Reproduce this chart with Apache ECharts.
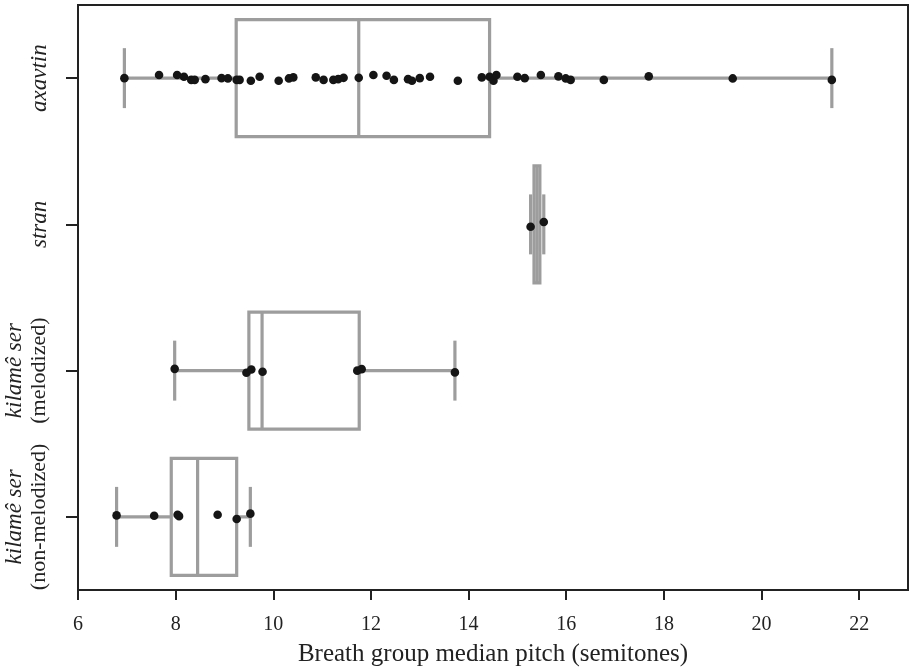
<!DOCTYPE html>
<html>
<head>
<meta charset="utf-8">
<script src="https://cdn.jsdelivr.net/npm/echarts@6/dist/echarts.min.js"></script>
<style>
  html, body { margin: 0; padding: 0; background: #fff; }
  #chart { width: 910px; height: 672px; }
</style>
</head>
<body>
<div id="chart"></div>
<script>
// Genre categories (top to bottom)
const categories = ['axavtin', 'stran', 'kilamê ser\n(melodized)', 'kilamê ser\n(non-melodized)'];

// Box statistics per category: [lower whisker, Q1, median, Q3, upper whisker]
const boxStats = [
  [6.95, 9.24, 11.75, 14.43, 21.44],
  [15.27, 15.34, 15.40, 15.46, 15.54],
  [7.98, 9.50, 9.77, 11.76, 13.72],
  [6.79, 7.91, 8.45, 9.25, 9.53]
];

// Individual breath groups: median pitch (semitones) and vertical jitter (fraction of band)
const axavtinPitch = [6.95, 7.66, 8.03, 8.17, 8.32, 8.39, 8.61, 8.94, 9.07, 9.25, 9.31, 9.54, 9.72,
  10.11, 10.32, 10.41, 10.87, 11.03, 11.23, 11.33, 11.44, 11.75, 12.05, 12.32, 12.47, 12.76, 12.84,
  13.00, 13.21, 13.78, 14.27, 14.43, 14.51, 14.57, 15.00, 15.15, 15.48, 15.84, 15.99, 16.09, 16.77,
  17.69, 19.41, 21.44];
const axavtinJitter = [0, -0.021, -0.021, -0.009, 0.012, 0.012, 0.007, 0, 0.002, 0.012, 0.012, 0.018, -0.009,
  0.018, 0.002, -0.005, -0.005, 0.012, 0.012, 0.007, -0.002, -0.002, -0.021, -0.016, 0.012, 0.007, 0.018,
  0, -0.009, 0.018, -0.005, -0.009, 0.018, -0.021, -0.009, 0, -0.021, -0.012, 0.002, 0.012, 0.012,
  -0.012, 0.002, 0.012];

const stranPitch = [15.27, 15.54];
const stranJitter = [0.016, -0.016];

const melodizedPitch = [7.98, 9.45, 9.55, 9.78, 11.72, 11.81, 13.72];
const melodizedJitter = [-0.012, 0.015, -0.008, 0.008, 0, -0.010, 0.012];

const nonMelodizedPitch = [6.79, 7.56, 8.04, 8.07, 8.86, 9.25, 9.53];
const nonMelodizedJitter = [-0.010, -0.008, -0.015, -0.005, -0.015, 0.015, -0.022];

const xTicks = [6, 8, 10, 12, 14, 16, 18, 20, 22];

const BOX_GREY = '#9d9d9d';
const AXIS_DARK = '#222222';
const SERIF = '"Liberation Serif", "DejaVu Serif", serif';

const pointGroups = [
  [axavtinPitch, axavtinJitter],
  [stranPitch, stranJitter],
  [melodizedPitch, melodizedJitter],
  [nonMelodizedPitch, nonMelodizedJitter]
];
const pointData = [];
pointGroups.forEach(function (g, ci) {
  g[0].forEach(function (p, i) { pointData.push([p, ci, g[1][i]]); });
});

const boxData = boxStats.map(function (s, ci) { return [ci].concat(s); });

function renderBox(params, api) {
  const ci = api.value(0);
  const band = api.size([0, 1])[1];
  const boxH = band * 0.8;
  const capH = band * 0.41;
  const lo = api.coord([api.value(1), ci]);
  const q1 = api.coord([api.value(2), ci]);
  const md = api.coord([api.value(3), ci]);
  const q3 = api.coord([api.value(4), ci]);
  const hi = api.coord([api.value(5), ci]);
  const cy = lo[1];
  const style = { stroke: BOX_GREY, lineWidth: 3.2, fill: null };
  return {
    type: 'group',
    children: [
      { type: 'line', shape: { x1: lo[0], y1: cy, x2: q1[0], y2: cy }, style: style },
      { type: 'line', shape: { x1: q3[0], y1: cy, x2: hi[0], y2: cy }, style: style },
      { type: 'line', shape: { x1: lo[0], y1: cy - capH / 2, x2: lo[0], y2: cy + capH / 2 }, style: style },
      { type: 'line', shape: { x1: hi[0], y1: cy - capH / 2, x2: hi[0], y2: cy + capH / 2 }, style: style },
      { type: 'rect', shape: { x: q1[0], y: cy - boxH / 2, width: q3[0] - q1[0], height: boxH }, style: style },
      { type: 'line', shape: { x1: md[0], y1: cy - boxH / 2, x2: md[0], y2: cy + boxH / 2 }, style: style }
    ]
  };
}

function renderPoint(params, api) {
  const ci = api.value(1);
  const band = api.size([0, 1])[1];
  const c = api.coord([api.value(0), ci]);
  return {
    type: 'circle',
    shape: { cx: c[0], cy: c[1] + api.value(2) * band, r: 4.3 },
    style: { fill: '#151515' }
  };
}

const chart = echarts.init(document.getElementById('chart'), null, { renderer: 'canvas' });
chart.setOption({
  animation: false,
  backgroundColor: '#ffffff',
  grid: {
    left: 78, right: 2, top: 5, bottom: 82,
    show: true, borderColor: AXIS_DARK, borderWidth: 2, backgroundColor: 'transparent'
  },
  xAxis: {
    type: 'value',
    min: 6, max: 23, interval: 2,
    splitLine: { show: false },
    axisLine: { lineStyle: { color: AXIS_DARK, width: 2 } },
    axisTick: { show: true, length: 10, inside: false, customValues: xTicks, lineStyle: { color: AXIS_DARK, width: 2 } },
    axisLabel: { customValues: xTicks, margin: 25, color: AXIS_DARK, fontFamily: SERIF, fontSize: 20 },
    name: 'Breath group median pitch (semitones)',
    nameLocation: 'middle',
    nameGap: 52,
    nameTextStyle: { color: AXIS_DARK, fontFamily: SERIF, fontSize: 25 }
  },
  yAxis: {
    type: 'category',
    data: categories,
    inverse: true,
    boundaryGap: true,
    axisLine: { lineStyle: { color: AXIS_DARK, width: 2 } },
    axisTick: { show: true, alignWithLabel: true, interval: 0, length: 12, lineStyle: { color: AXIS_DARK, width: 2 } },
    splitLine: { show: false },
    axisLabel: {
      interval: 0,
      rotate: 90,
      margin: 26,
      color: AXIS_DARK,
      fontFamily: SERIF,
      fontSize: 23,
      formatter: function (v) {
        const parts = v.split('\n');
        if (parts.length === 1) return '{it|' + v + '}';
        return '{it|' + parts[0] + '}\n{rm|' + parts[1] + '}';
      },
      rich: {
        it: { fontStyle: 'italic', fontFamily: SERIF, fontSize: 23, color: AXIS_DARK, lineHeight: 25 },
        rm: { fontFamily: SERIF, fontSize: 22, color: AXIS_DARK, lineHeight: 25 }
      }
    }
  },
  series: [
    {
      type: 'custom',
      name: 'box',
      renderItem: renderBox,
      encode: { x: [1, 2, 3, 4, 5], y: 0 },
      data: boxData,
      z: 2
    },
    {
      type: 'custom',
      name: 'points',
      renderItem: renderPoint,
      encode: { x: 0, y: 1 },
      data: pointData,
      z: 3
    }
  ]
});
</script>
</body>
</html>
